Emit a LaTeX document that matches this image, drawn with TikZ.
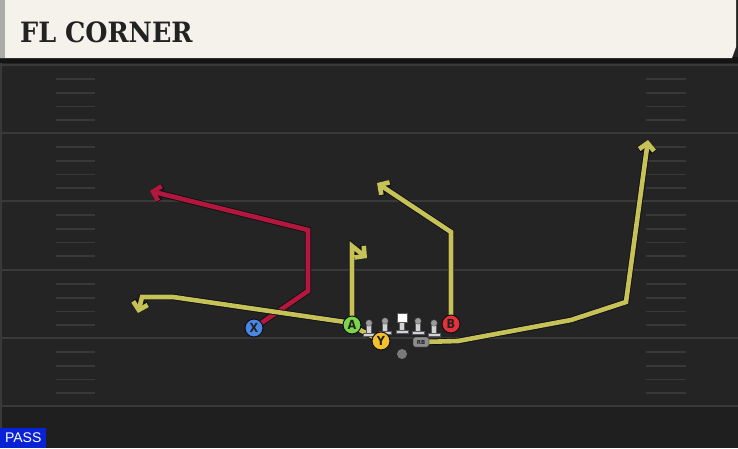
\documentclass[tikz,border=0pt]{standalone}
\usepackage{fontspec}
\setmainfont{DejaVu Sans}
\newfontfamily\titlefont{DejaVu Serif}
\newfontfamily\passfont{Liberation Sans}
\newfontfamily\letterfont{DejaVu Sans Condensed}
\usetikzlibrary{arrows.meta}
\definecolor{bgc}{HTML}{242424}
\definecolor{bgdark}{HTML}{1F1F1F}
\definecolor{yardc}{HTML}{393939}
\definecolor{hashc}{HTML}{383838}
\definecolor{cream}{HTML}{F5F2EB}
\definecolor{stripc}{HTML}{A9ACA9}
\definecolor{shadowc}{HTML}{141414}
\definecolor{titlec}{HTML}{222222}
\definecolor{redroute}{HTML}{B3173B}
\definecolor{yelroute}{HTML}{C6C257}
\definecolor{outc}{HTML}{101018}
\definecolor{xblue}{HTML}{4A86E3}
\definecolor{agreen}{HTML}{7AD54B}
\definecolor{yyellow}{HTML}{F4C12C}
\definecolor{bred}{HTML}{E6303A}
\definecolor{lmbody}{HTML}{D2D2D2}
\definecolor{lmhead}{HTML}{9C9C9C}
\definecolor{rbgrey}{HTML}{8C8C8C}
\definecolor{qbgrey}{HTML}{7A7A7A}
\definecolor{passblue}{HTML}{0A22D6}
\pgfdeclarelayer{field}
\pgfdeclarelayer{routes}
\pgfsetlayers{field,routes,main}
\tikzset{
  player/.style={circle, draw=outc, line width=1pt, minimum size=18pt, inner sep=0pt,
    font=\letterfont\bfseries\fontsize{12.5}{12.5}\selectfont, text=titlec},
  routetip/.style={-{Straight Barb[length=7pt,width=15pt]}},
  lineman/.pic={
    \filldraw[fill=lmbody, draw=outc!70, line width=0.4pt] (-6,-3) rectangle (6,0);
    \filldraw[fill=lmbody, draw=outc!70, line width=0.4pt] (-2.4,-12) rectangle (2.4,-3);
    \filldraw[fill=lmhead, draw=outc!70, line width=0.4pt] (0,-13) circle (3.2);
  },
  snapper/.pic={
    \filldraw[fill=lmbody, draw=outc!70, line width=0.4pt] (-6,-3) rectangle (6,0);
    \filldraw[fill=lmbody, draw=outc!70, line width=0.4pt] (-2.4,-12) rectangle (2.4,-3);
    \filldraw[fill=white, draw=outc!70, line width=0.4pt] (-5,-20) rectangle (5,-11);
  },
  yardline/.style={draw=yardc, line width=2pt},
  hashmark/.style={draw=hashc, line width=1.8pt},
}
\begin{document}
\begin{tikzpicture}[x=1pt,y=-1pt]
\useasboundingbox (0,0) rectangle (738,448);
% players and line
\node[player, fill=xblue] (X) at (254,328) {X};
\node[player, fill=agreen] (A) at (352,325) {A};
\node[player, fill=bred] (B) at (451,324) {B};
\pic (lt) at (369,336) {lineman};
\pic (lg) at (385,334) {lineman};
\pic (c) at (402,333) {snapper};
\pic (rg) at (418,334) {lineman};
\pic (rt) at (434,336) {lineman};
\node[player, fill=yyellow] (Y) at (381,341) {Y};
\node[draw=outc, fill=rbgrey, rounded corners=2pt, minimum width=16pt, minimum height=10pt,
  inner sep=0pt, font=\bfseries\fontsize{5.5}{5.5}\selectfont, text=titlec] (RB) at (421,342) {RB};
\node[circle, fill=qbgrey, minimum size=10pt, inner sep=0pt] (QB) at (402,354) {};
\node[fill=passblue, anchor=south west, minimum width=46pt, minimum height=20pt, inner sep=0pt,
  text=white, font=\passfont\fontsize{14}{14}\selectfont] (pass) at (0,448) {PASS};
% field
\begin{pgfonlayer}{field}
\fill[bgc] (0,0) rectangle (738,448);
\fill[bgdark] (0,407) rectangle (738,448);
\draw[yardc, line width=1.5pt] (0.75,60) -- (0.75,448);
\foreach \yy in {65,133,201,270,338,406} {
  \draw[yardline] (0,\yy) -- (738,\yy);
}
\foreach \s in {65,133,201,270,338} {
  \foreach \o in {14,28,41.5,55} {
    \draw[hashmark] (56,\s+\o) -- (95,\s+\o);
    \draw[hashmark] (646,\s+\o) -- (686,\s+\o);
  }
}
\fill[shadowc] (0,57) rectangle (738,63);
\fill[cream] (0,0) -- (736,0) -- (736,47) -- (732,58) -- (0,58) -- cycle;
\fill[stripc] (0,0) rectangle (4.5,58);
\node[anchor=base west, inner sep=0pt, text=titlec,
  font=\titlefont\bfseries\fontsize{28}{28}\selectfont] (title) at (20,42.5) {\scalebox{0.91}[1]{FL CORNER}};
\end{pgfonlayer}
% routes
\begin{pgfonlayer}{routes}
\coordinate (xend) at (150,191);
\coordinate (yend) at (138,313);
\coordinate (aend) at (367,258);
\coordinate (bend) at (377,183);
\coordinate (rbend) at (648,140);
\foreach \lw/\cc in {6.4pt/outc, 4.6pt/redroute} {
  \draw[routetip, line width=\lw, draw=\cc] (X.center) -- (308,291) -- (308,230) -- (xend);
}
\foreach \lw/\cc in {6.4pt/outc, 4.6pt/yelroute} {
  \draw[routetip, line width=\lw, draw=\cc] (Y.center) -- (345,322) -- (173,297) -- (142,297) -- (yend);
  \draw[routetip, line width=\lw, draw=\cc] (A.center) -- (352,246) -- (aend);
  \draw[routetip, line width=\lw, draw=\cc] (B.center) -- (451,232) -- (bend);
  \draw[routetip, line width=\lw, draw=\cc] (RB.center) -- (458,341) -- (571,320) -- (626,302) -- (rbend);
}
\end{pgfonlayer}
\end{tikzpicture}
\end{document}
